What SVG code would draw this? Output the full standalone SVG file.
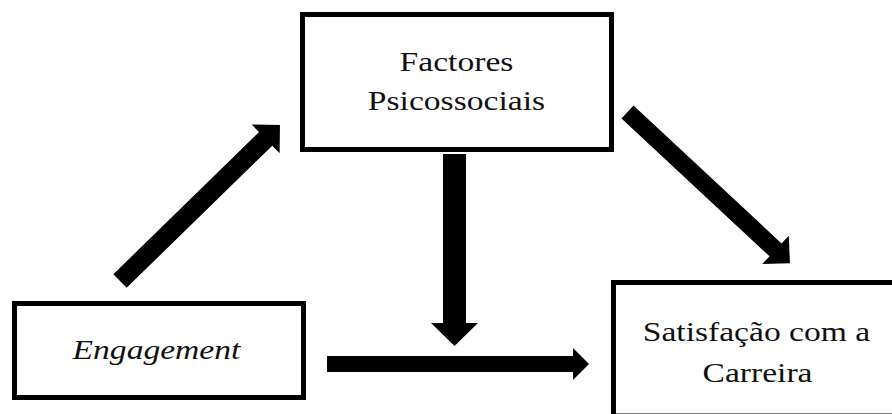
<svg xmlns="http://www.w3.org/2000/svg" width="892" height="414" viewBox="0 0 892 414">
  <style>
    .box { fill: #fff; stroke: #000; stroke-width: 5; }
    .lbl { font-family: "Liberation Serif", "Times New Roman", serif; font-size: 28px; fill: #111; text-anchor: middle; }
    .it { font-style: italic; }
    .arrow { fill: #000; stroke: none; }
  </style>
  <rect width="892" height="414" fill="#fff"/>
  <g id="connectors">
    <polygon class="arrow" transform="translate(120,281) rotate(-44.3)" points="0,-9.5 203.5,-9.5 203.5,-20 223.5,0 203.5,20 203.5,9.5 0,9.5"/>
    <polygon class="arrow" transform="translate(627.5,112) rotate(42.96)" points="0,-8.8 202.3,-8.8 202.3,-19.4 222,0 202.3,19.4 202.3,8.8 0,8.8"/>
    <polygon class="arrow" points="443,154 466,154 466,323 478,323 454.5,346 431,323 443,323"/>
    <polygon class="arrow" points="327,356 573,356 573,348 589,364 573,380 573,372 327,372"/>
  </g>
  <g id="node-factores">
    <rect class="box" x="302.5" y="14.5" width="309" height="135"/>
    <text class="lbl" transform="scale(1.2,1)" x="380.4" y="71">Factores</text>
    <text class="lbl" transform="scale(1.2,1)" x="380.4" y="110">Psicossociais</text>
  </g>
  <g id="node-engagement">
    <rect class="box" x="14.5" y="303.5" width="289" height="94"/>
    <text class="lbl it" transform="scale(1.2,1)" x="130.4" y="359">Engagement</text>
  </g>
  <g id="node-satisfacao">
    <rect class="box" x="613.5" y="282.5" width="290" height="133.5"/>
    <text class="lbl" transform="scale(1.2,1)" x="630.4" y="341">Satisfação com a</text>
    <text class="lbl" transform="scale(1.2,1)" x="631.25" y="382">Carreira</text>
  </g>
</svg>
